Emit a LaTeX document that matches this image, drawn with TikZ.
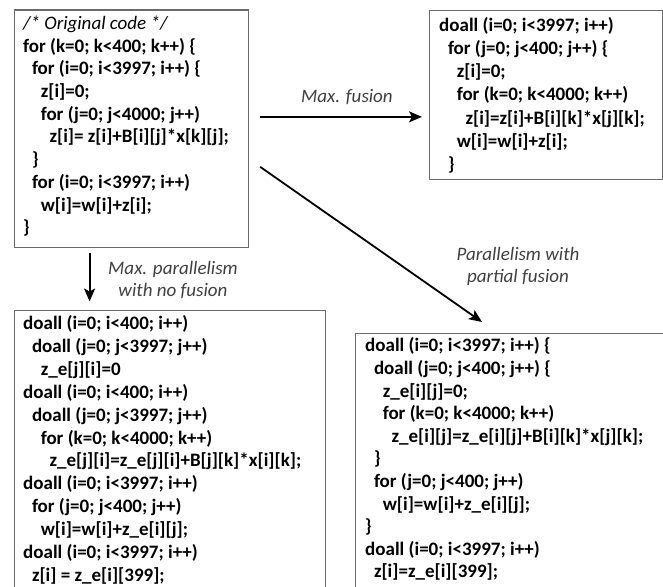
\documentclass[tikz,border=0pt]{standalone}
\usepackage{fontspec}
\setmainfont{Carlito}
\usetikzlibrary{arrows.meta,calc}

\tikzset{
  box/.style={draw=black!58, line width=1.2pt, anchor=north west, inner sep=0pt},
  code/.style={anchor=north west, inner sep=0pt, align=left,
    font=\fontsize{19}{#1}\selectfont\bfseries},
  lbl/.style={align=center, text=black!75, inner sep=0pt,
    font=\fontsize{19}{22.5}\selectfont\itshape},
  arr/.style={-{Stealth[length=13pt,width=11pt,inset=3pt]}, line width=1.8pt}
}
\newcommand{\tb}{\hspace*{8.8pt}}

\begin{document}
\begin{tikzpicture}[x=1pt,y=-1pt]
\useasboundingbox (0,0) rectangle (663,586);
\clip (0,0) rectangle (663,586);

% boxes
\node[box, minimum width=234pt, minimum height=237.5pt] (orig) at (14,9.5) {};
\node[box, minimum width=233pt, minimum height=169pt] (maxfus) at (429,10) {};
\node[box, minimum width=311pt, minimum height=300pt] (nofus) at (14,309.5) {};
\node[box, minimum width=330pt, minimum height=280pt] (partfus) at (355,333) {};

% code
\node[code=22.7] (origcode) at ($(orig.north west)+(9,3.9)$)
  {\strut{\mdseries\itshape /* Original code */}\\
   for (k=0; k<400; k++) \{\\
   \tb for (i=0; i<3997; i++) \{\\
   \tb\tb z[i]=0;\\
   \tb\tb for (j=0; j<4000; j++)\\
   \tb\tb\tb z[i]= z[i]+B[i][j]*x[k][j];\\
   \tb \}\\
   \tb for (i=0; i<3997; i++)\\
   \tb\tb w[i]=w[i]+z[i];\\
   \}};
\node[code=23.2] (maxfuscode) at ($(maxfus.north west)+(10,4.8)$)
  {\strut doall (i=0; i<3997; i++)\\
   \tb for (j=0; j<400; j++) \{\\
   \tb\tb z[i]=0;\\
   \tb\tb for (k=0; k<4000; k++)\\
   \tb\tb\tb z[i]=z[i]+B[i][k]*x[j][k];\\
   \tb\tb w[i]=w[i]+z[i];\\
   \tb \}};
\node[code=22.9] (nofuscode) at ($(nofus.north west)+(9,3.8)$)
  {\strut doall (i=0; i<400; i++)\\
   \tb doall (j=0; j<3997; j++)\\
   \tb\tb z\_e[j][i]=0\\
   doall (i=0; i<400; i++)\\
   \tb doall (j=0; j<3997; j++)\\
   \tb\tb for (k=0; k<4000; k++)\\
   \tb\tb\tb z\_e[j][i]=z\_e[j][i]+B[j][k]*x[i][k];\\
   doall (i=0; i<3997; i++)\\
   \tb for (j=0; j<400; j++)\\
   \tb\tb w[i]=w[i]+z\_e[i][j];\\
   doall (i=0; i<3997; i++)\\
   \tb z[i] = z\_e[i][399];};
\node[code=22.6] (partfuscode) at ($(partfus.north west)+(10,2.9)$)
  {\strut doall (i=0; i<3997; i++) \{\\
   \tb doall (j=0; j<400; j++) \{\\
   \tb\tb z\_e[i][j]=0;\\
   \tb\tb for (k=0; k<4000; k++)\\
   \tb\tb\tb z\_e[i][j]=z\_e[i][j]+B[i][k]*x[j][k];\\
   \tb \}\\
   \tb for (j=0; j<400; j++)\\
   \tb\tb w[i]=w[i]+z\_e[i][j];\\
   \}\\
   doall (i=0; i<3997; i++)\\
   \tb z[i]=z\_e[i][399];};

% transformations
\draw[arr] ($(orig.east)+(11,-12)$) -- ($(orig.east -| maxfus.west)+(-7,-12)$);
\draw[arr] ($(orig.south)+(-42,5)$) -- ($(orig.south |- nofus.north)+(-42,-8)$);
\draw[arr] ($(orig.east)+(11,38)$) -- ($(partfus.north west)+(127,-11)$);

\node[lbl] (fuslbl) at (347,97) {Max. fusion};
\node[lbl] (nofuslbl) at (173,280) {Max. parallelism\\with no fusion};
\node[lbl] (partlbl) at (518,266.5) {Parallelism with\\partial fusion};
\end{tikzpicture}
\end{document}
